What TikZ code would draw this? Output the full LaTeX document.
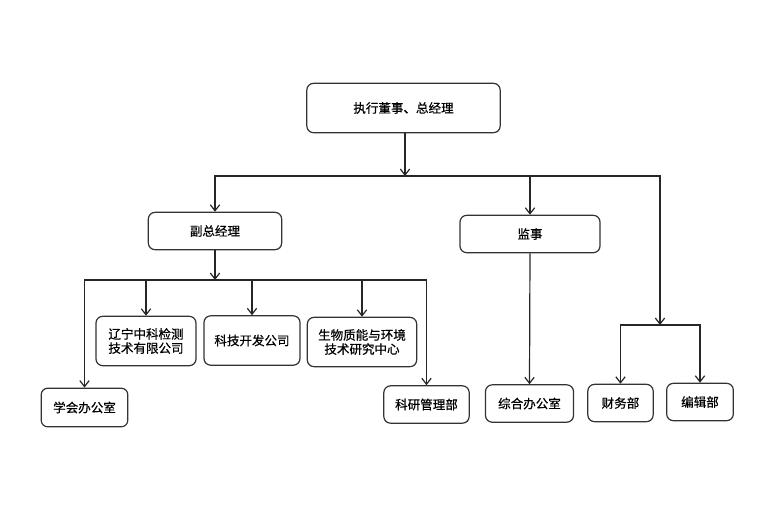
\documentclass[tikz,border=0pt]{standalone}
\usepackage{fontspec}
\newfontfamily\cjk[FakeBold=0.6]{Noto Sans CJK SC}
\usetikzlibrary{arrows.meta}

\tikzset{
  unit/.style={draw=black!80, line width=0.9pt, rounded corners=5pt, fill=white,
    align=center, inner sep=2pt, font=\cjk\fontsize{9.4}{10.6}\selectfont},
  link/.style={black!85, line width=0.9pt},
  >={Straight Barb[length=4.5pt,width=7pt]}
}

\begin{document}
\begin{tikzpicture}[x=0.75pt, y=-0.75pt]
        \useasboundingbox (0,0) rectangle (772,512);

        % top and second level
        \node[unit, minimum width=145pt, minimum height=37pt] (ceo) at (403.5,108) {执行董事、总经理};
        \node[unit, minimum width=100pt, minimum height=28pt] (vgm) at (215,231) {副总经理};
        \node[unit, minimum width=105pt, minimum height=28pt] (jianshi) at (530,234) {监事};

        % units under the deputy
        \node[unit, minimum width=65pt, minimum height=29pt] (xuehui) at (84.5,407.5) {学会办公室};
        \node[unit, minimum width=75pt, minimum height=37pt] (zhongke) at (146,341) {辽宁中科检测\\技术有限公司};
        \node[unit, minimum width=72pt, minimum height=37pt] (keji) at (252,340.5) {科技开发公司};
        \node[unit, minimum width=82pt, minimum height=37pt] (shengwu) at (362,342) {生物质能与环境\\技术研究中心};
        \node[unit, minimum width=64pt, minimum height=28pt] (keyan) at (426.5,404.5) {科研管理部};

        % other units
        \node[unit, minimum width=66pt, minimum height=28pt] (zonghe) at (529.5,403.5) {综合办公室};
        \node[unit, minimum width=49pt, minimum height=28pt] (caiwu) at (620.5,403) {财务部};
        \node[unit, minimum width=50pt, minimum height=28pt] (bianji) at (700,402) {编辑部};

        \coordinate (j1) at (405,176);
        \coordinate (j2) at (215,280);
        \coordinate (j3) at (660,325);

        \draw[link, ->] (ceo.south -| j1) -- (j1);
        \draw[link, ->] (j1) -| (vgm.north);
        \draw[link, ->] (j1) -| (jianshi.north);
        \draw[link, ->] (j1) -| (j3);

        \draw[link, ->] (vgm.south) -- (j2);
        \draw[link, ->] (j2) -| (xuehui.north);
        \draw[link, ->] (j2) -| (zhongke.north);
        \draw[link, ->] (j2) -| (keji.north);
        \draw[link, ->] (j2) -| (shengwu.north);
        \draw[link, ->] (j2) -| (keyan.north);

        \draw[link, ->] (jianshi.south) -- (zonghe.north);

        \draw[link, ->] (j3) -| (caiwu.north);
        \draw[link, ->] (j3) -| (bianji.north);

      \end{tikzpicture}
\end{document}
